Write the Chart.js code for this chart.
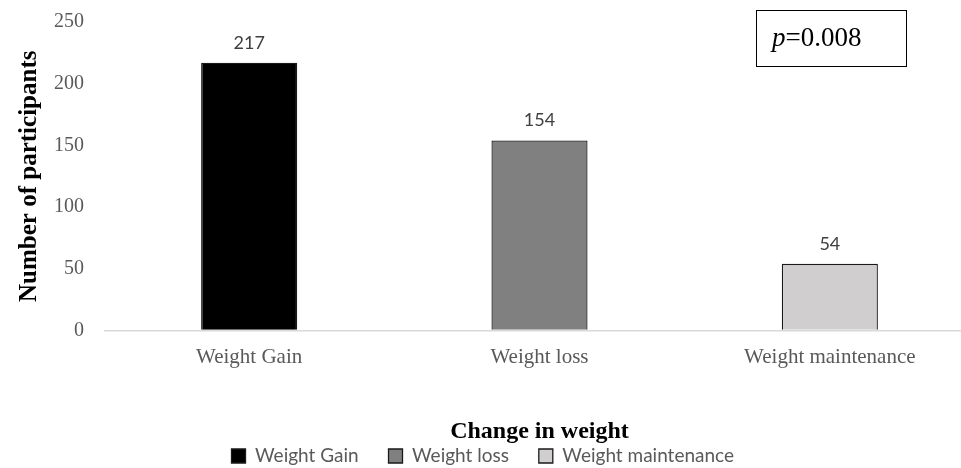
<!DOCTYPE html>
<html>
<head>
<meta charset="utf-8">
<script src="https://cdn.jsdelivr.net/npm/chart.js@4/dist/chart.umd.min.js"></script>
<style>
html,body{margin:0;padding:0;background:#fff;overflow:hidden;}
#wrap{position:relative;width:975px;height:468px;}
</style>
</head>
<body>
<div id="wrap"><canvas id="c"></canvas></div>
<script>
const categories = ["Weight Gain", "Weight loss", "Weight maintenance"];
const seriesNames = ["Weight Gain", "Weight loss", "Weight maintenance"];
const values = [217, 154, 54];
const yTicks = [0, 50, 100, 150, 200, 250];
const fillColors = ["#000000", "#808080", "#d0cece"];
const pText = "0.008";

const datasets = seriesNames.map((name, i) => ({
  label: name,
  data: categories.map((c, j) => (j === i ? values[i] : null)),
  backgroundColor: fillColors[i],
  borderColor: "#1a1a1a",
  borderWidth: 1.3,
  grouped: false,
  barPercentage: 1,
  categoryPercentage: 0.331
}));

const labelPlugin = {
  id: "valueLabels",
  afterDatasetsDraw(chart) {
    const ctx = chart.ctx;
    ctx.save();
    ctx.font = "18px Lato, 'Open Sans', sans-serif";
    ctx.fillStyle = "#404040";
    ctx.textAlign = "center";
    ctx.textBaseline = "bottom";
    chart.data.datasets.forEach((ds, i) => {
      const meta = chart.getDatasetMeta(i);
      meta.data.forEach((bar, j) => {
        const v = ds.data[j];
        if (v == null) return;
        ctx.fillText(String(v), bar.x, bar.y - 11);
      });
    });
    ctx.restore();
  }
};

const pPlugin = {
  id: "pBox",
  afterDraw(chart) {
    const ctx = chart.ctx;
    ctx.save();
    ctx.strokeStyle = "#000";
    ctx.lineWidth = 1;
    ctx.strokeRect(756.5, 10.5, 150, 56);
    ctx.fillStyle = "#000";
    ctx.textBaseline = "alphabetic";
    ctx.textAlign = "left";
    ctx.font = "italic 27px 'Liberation Serif', serif";
    ctx.fillText("p", 772, 46);
    const w = ctx.measureText("p").width;
    ctx.font = "27px 'Liberation Serif', serif";
    ctx.fillText("=" + pText, 772 + w, 46);
    ctx.restore();
  }
};

new Chart(document.getElementById("c"), {
  type: "bar",
  data: { labels: categories, datasets },
  options: {
    responsive: true,
    maintainAspectRatio: false,
    animation: false,
    layout: { autoPadding: false, padding: { top: 22, left: 0, right: 0, bottom: -7.5 } },
    plugins: {
      tooltip: { enabled: false },
      legend: {
        position: "bottom",
        labels: {
          font: { family: "Lato, 'Open Sans', sans-serif", size: 19 },
          color: "#595959",
          boxWidth: 14,
          boxHeight: 14,
          padding: 6,
          generateLabels(chart) {
            const items = Chart.defaults.plugins.legend.labels.generateLabels(chart);
            items.forEach((it, i) => {
              it.strokeStyle = "#1a1a1a";
              it.lineWidth = 1.3;
              if (i < items.length - 1) it.text = it.text + "\u2002\u2002 ";
              else it.text = it.text + "\u2002";
            });
            return items;
          }
        }
      }
    },
    scales: {
      x: {
        border: { display: false },
        grid: { display: false, drawTicks: false },
        ticks: {
          color: "#595959",
          font: { family: "'Liberation Serif', serif", size: 21 },
          padding: 14
        },
        title: {
          display: true,
          text: "Change in weight",
          color: "#000",
          font: { family: "'Liberation Serif', serif", size: 24, weight: "bold" },
          padding: { top: 34, bottom: -6 }
        }
      },
      y: {
        min: 0,
        max: 250,
        afterBuildTicks(scale) { scale.ticks = yTicks.map(v => ({ value: v })); },
        border: { display: false },
        grid: {
          drawTicks: false,
          color: ctx => (ctx.tick && ctx.tick.value === 0 ? "#d9d9d9" : "rgba(0,0,0,0)"),
          lineWidth: 1.5
        },
        ticks: {
          color: "#595959",
          font: { family: "'Liberation Serif', serif", size: 20, lineHeight: 0.2 },
          padding: 20
        },
        title: {
          display: true,
          text: "Number of participants",
          color: "#000",
          font: { family: "'Liberation Serif', serif", size: 25, weight: "bold" },
          padding: { top: 15, bottom: -11 }
        }
      }
    }
  },
  plugins: [labelPlugin, pPlugin]
});
</script>
</body>
</html>
